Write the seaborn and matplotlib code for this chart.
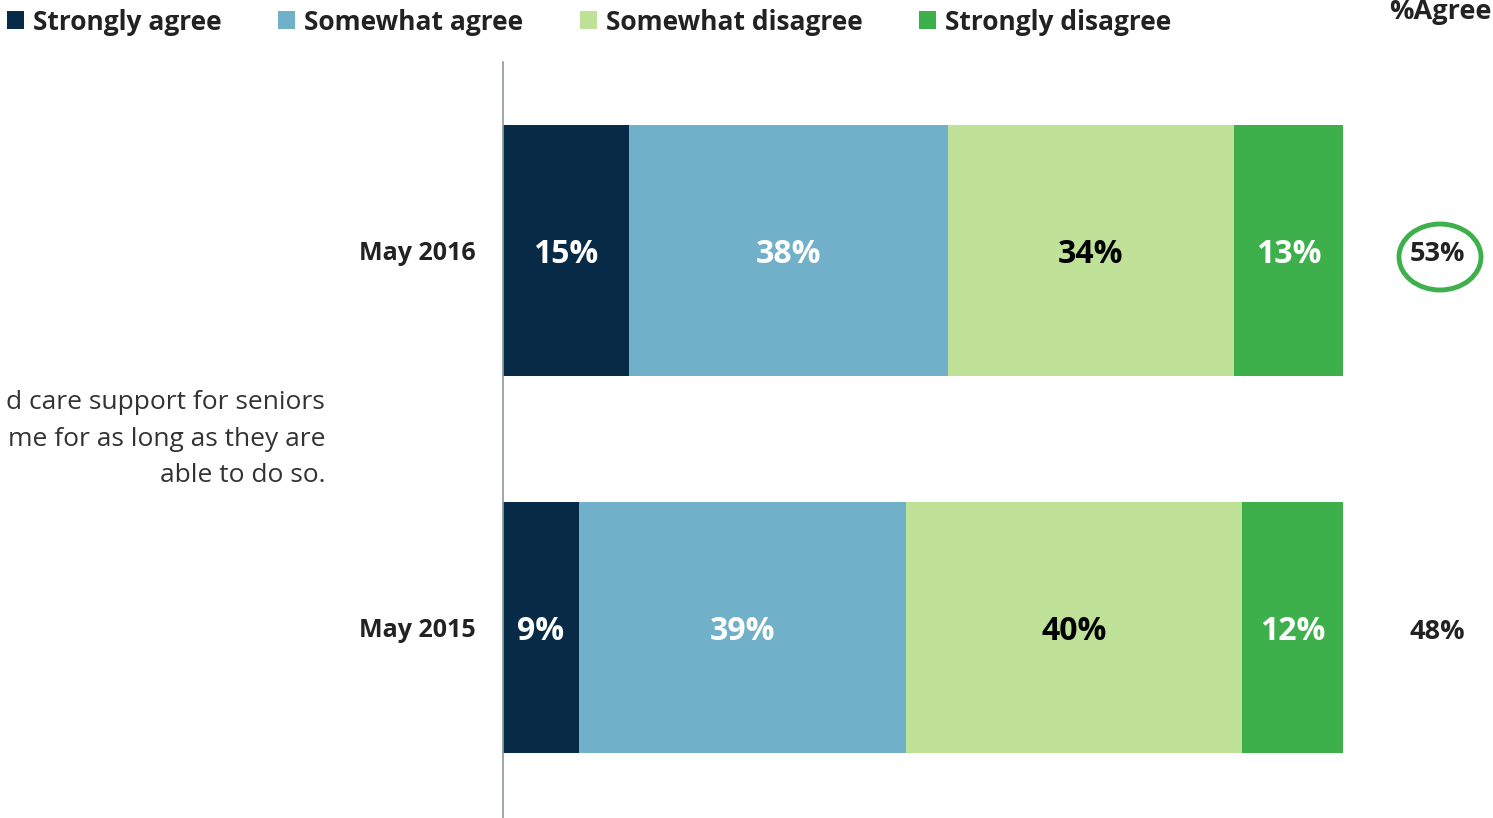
import matplotlib.pyplot as plt
import seaborn as sns
import pandas as pd
from matplotlib.patches import Ellipse, Patch

periods = ['May 2016', 'May 2015']
categories = ['Strongly agree', 'Somewhat agree', 'Somewhat disagree', 'Strongly disagree']
strongly_agree = [15, 9]
somewhat_agree = [38, 39]
somewhat_disagree = [34, 40]
strongly_disagree = [13, 12]
pct_agree = ['53%', '48%']
statement = 'd care support for seniors\nme for as long as they are\nable to do so.'

colors = ['#072a47', '#70b0c8', '#c0e298', '#3db04b']
label_colors = ['white', 'white', 'black', 'white']

sns.set_style('white')
plt.rcParams['font.family'] = ['Open Sans', 'DejaVu Sans']

df = pd.DataFrame({
    'Period': periods,
    categories[0]: strongly_agree,
    categories[1]: somewhat_agree,
    categories[2]: somewhat_disagree,
    categories[3]: strongly_disagree,
})
cum = df[categories].cumsum(axis=1)

fig = plt.figure(figsize=(14.93, 8.18), dpi=100)
ax = fig.add_axes([0.3369, 0.0, 0.5626, 0.9242])

# stacked bars: draw cumulative totals from the back to the front
for cat, col in reversed(list(zip(categories, colors))):
    sns.barplot(x=cum[cat], y=df['Period'], orient='h', color=col,
                width=0.666, saturation=1, linewidth=0, ax=ax)

# segment labels
for i in range(len(periods)):
    left = 0
    for cat, tc in zip(categories, label_colors):
        v = df.loc[i, cat]
        ax.text(left + v / 2, i + 0.01, f'{v}%', ha='center', va='center',
                color=tc, fontsize=23, fontweight='bold')
        left += v

ax.set_xlim(0, 100)
ax.set_ylim(1.504, -0.499)
ax.set_xlabel('')
ax.set_ylabel('')
ax.set_xticks([])
ax.set_yticks(range(len(periods)))
ax.set_yticklabels(periods, fontsize=18, fontweight='bold', color='#222222')
ax.tick_params(axis='y', length=0, pad=20)
for side in ['top', 'right', 'bottom']:
    ax.spines[side].set_visible(False)
ax.spines['left'].set_color('#8a9aa8')
ax.spines['left'].set_linewidth(1.2)

# %Agree column
fig.text(1440 / 1493, 1 - 12 / 818, '%Agree', ha='center', va='center',
         fontsize=19.5, fontweight='bold', color='#222222')
for i, t in enumerate(pct_agree):
    ax.text(111.2, i + 0.01, t, ha='center', va='center', fontsize=19.5,
            fontweight='bold', color='#222222', clip_on=False)
ell = Ellipse((1440 / 1493, 1 - 257 / 818), 82 / 1493, 66 / 818,
              transform=fig.transFigure, fill=False, edgecolor='#3db04b',
              linewidth=3.5)
fig.add_artist(ell)

# statement text on the left (cropped in the original)
fig.text(325 / 1493, 1 - 439 / 818, statement, ha='right', va='center',
         fontsize=19, color='#333333', linespacing=1.62)

# legend
handles = [Patch(facecolor=c, edgecolor='none') for c in colors]
fig.legend(handles, categories, loc='center left', bbox_to_anchor=(0.002, 1 - 22 / 818),
           ncol=4, frameon=False, prop={'size': 19, 'weight': 'bold'},
           handlelength=0.65, handleheight=0.65, handletextpad=0.34,
           columnspacing=2.14, labelcolor='#222222', borderaxespad=0,
           borderpad=0.15)

fig.savefig('out.png', dpi=100)
